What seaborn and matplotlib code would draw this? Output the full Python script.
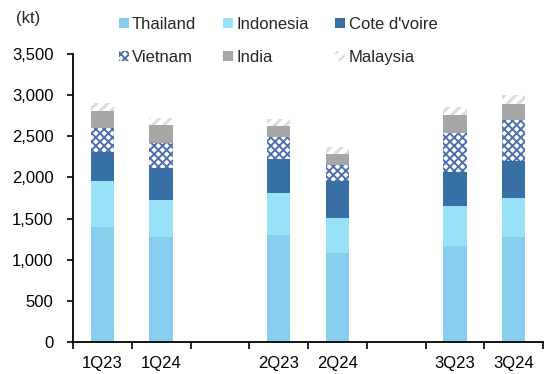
import numpy as np
import pandas as pd
import matplotlib
matplotlib.use("Agg")
import matplotlib.pyplot as plt
import seaborn as sns
from matplotlib.patches import Patch

# Quarterly volumes (kt) by origin
quarters = ["1Q23", "1Q24", "2Q23", "2Q24", "3Q23", "3Q24"]
thailand = [1400, 1270, 1295, 1085, 1170, 1280]
indonesia = [555, 455, 520, 420, 485, 475]
cote_divoire = [355, 390, 405, 455, 405, 450]
vietnam = [290, 300, 275, 185, 480, 490]
india = [210, 220, 135, 140, 220, 200]
malaysia = [90, 90, 80, 80, 90, 105]

# slot order on the x axis, with empty slots separating the quarters
slots = ["1Q23", "1Q24", " ", "2Q23", "2Q24", "  ", "3Q23", "3Q24"]

series = ["Thailand", "Indonesia", "Cote d'voire", "Vietnam", "India", "Malaysia"]
values = [thailand, indonesia, cote_divoire, vietnam, india, malaysia]
styles = {
    "Thailand": dict(face="#89CDEE", edge="#89CDEE", hatch=None, hlw=1.0),
    "Indonesia": dict(face="#98E2F8", edge="#98E2F8", hatch=None, hlw=1.0),
    "Cote d'voire": dict(face="#386FA4", edge="#386FA4", hatch=None, hlw=1.0),
    "Vietnam": dict(face="#FFFFFF", edge="#5070AD", hatch="xxxx", hlw=1.4),
    "India": dict(face="#A6A6A6", edge="#A6A6A6", hatch=None, hlw=1.0),
    "Malaysia": dict(face="#FFFFFF", edge="#DCDCDC", hatch="///", hlw=2.2),
}

df = pd.DataFrame({"quarter": quarters})
running = np.zeros(len(quarters))
for name, vals in zip(series, values):
    running = running + np.array(vals, dtype=float)
    df[name] = running

sns.set_theme(style="white")
plt.rcParams["font.family"] = ["Liberation Sans", "DejaVu Sans"]
plt.rcParams["hatch.linewidth"] = 1.4


def style_patch(p, st):
    p.set_facecolor(st["face"])
    p.set_edgecolor(st["edge"])
    p.set_linewidth(0)
    if st["hatch"]:
        p.set_hatch(st["hatch"])
        if hasattr(p, "set_hatch_linewidth"):
            p.set_hatch_linewidth(st["hlw"])


fig = plt.figure(figsize=(5.46, 3.74), dpi=100)
ax = fig.add_axes([73 / 546, 1 - 342 / 374, 470 / 546, (342 - 54) / 374])

# draw cumulative totals from the top layer down so each layer shows its own segment
for name in reversed(series):
    st = styles[name]
    sns.barplot(data=df, x="quarter", y=name, order=slots, ax=ax,
                color=st["face"], width=0.4, saturation=1, errorbar=None)
    for p in ax.patches:
        if getattr(p, "_layer", None) is None:
            p._layer = name
            style_patch(p, st)

ax.set_ylim(0, 3500)
ax.set_xlim(-0.5, len(slots) - 0.5)
ax.set_yticks(np.arange(0, 3501, 500))
ax.yaxis.set_major_formatter(matplotlib.ticker.StrMethodFormatter("{x:,.0f}"))
ax.set_xlabel("")
ax.set_ylabel("")

ax.set_xticks(range(len(slots)))
ax.set_xticklabels(slots)
ax.set_xticks(np.arange(-0.5, len(slots), 1.0), minor=True)
ax.tick_params(axis="x", which="major", length=0, pad=10, labelsize=12, colors="black")
ax.tick_params(axis="x", which="minor", length=5, width=1.2, direction="out", color="black", bottom=True)
ax.tick_params(axis="y", length=4, width=1.2, direction="out", left=True, pad=10,
               labelsize=12, colors="black")

for side in ["top", "right"]:
    ax.spines[side].set_visible(False)
for side in ["left", "bottom"]:
    ax.spines[side].set_color("black")
    ax.spines[side].set_linewidth(1.3)

fig.text(16 / 546, 1 - 18 / 374, "(kt)", fontsize=12, va="center", ha="left")

handles = []
for name in series:
    st = styles[name]
    h = Patch(label=name)
    style_patch(h, st)
    handles.append(h)
# column-major fill for a 2x3 legend read row by row
order = [0, 3, 1, 4, 2, 5]
fig.legend([handles[i] for i in order], [series[i] for i in order],
           ncol=3, loc="upper left", bbox_to_anchor=(112 / 546, 1 - 10 / 374),
           frameon=False, fontsize=12, handlelength=0.6, handleheight=0.6,
           handletextpad=0.2, columnspacing=1.6, labelspacing=1.1, borderaxespad=0)

fig.savefig("out.png", dpi=100)
